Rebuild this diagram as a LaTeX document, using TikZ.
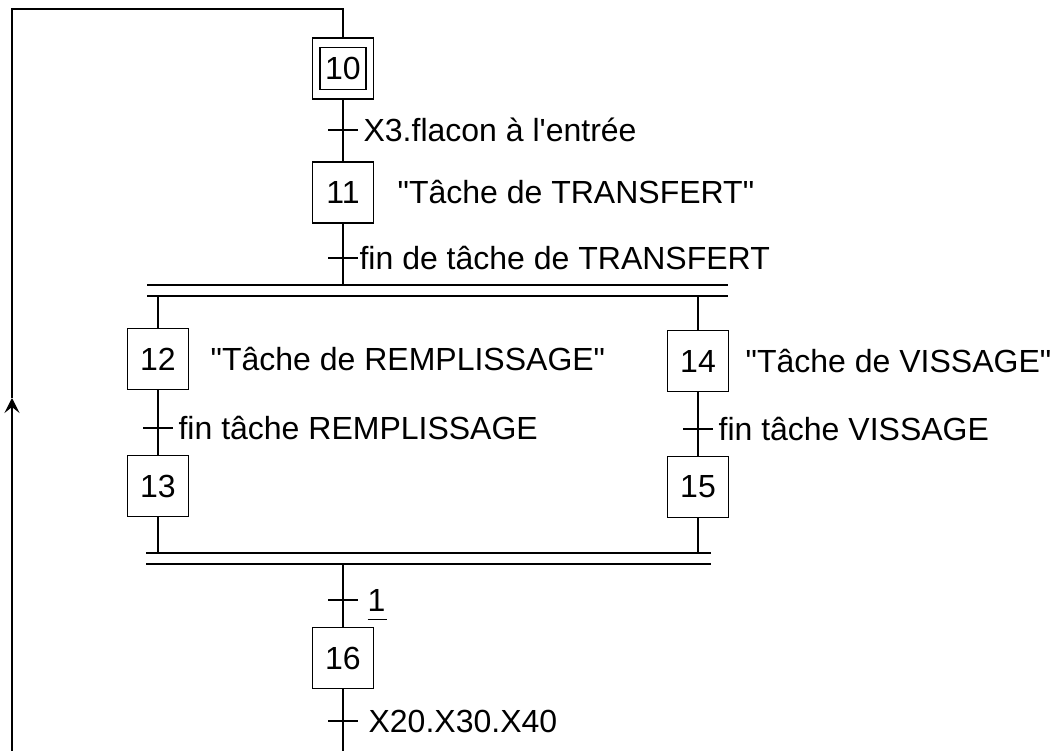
\documentclass[tikz,border=0pt]{standalone}
\usepackage{fontspec}
\setmainfont{Liberation Sans}
\usetikzlibrary{positioning, arrows.meta}
\newcommand{\grafont}{\fontsize{32}{38}\selectfont}
\newcommand{\toujours}{\underline{\rule[-6pt]{0pt}{1pt}1\hspace{2pt}}}

\begin{document}
\begin{tikzpicture}[
    x=1pt, y=-1pt,
    line width=1.2pt,
    % --- grafcet: steps, texts, bars ---
    etape/.style={draw, minimum size=61pt, inner sep=0pt, font=\grafont},
    initint/.style={draw, minimum width=46pt, minimum height=42pt,
                    inner sep=0pt, font=\grafont},
    txt/.style={font=\grafont, text height=23pt, text depth=0pt,
                inner sep=1pt, anchor=west},
    barre/.style={line width=1.4pt},
    recept/.style={line width=1.2pt},
    retour/.style={-{Stealth[length=15pt, width=15pt, inset=6pt]}},
]
\useasboundingbox (0,0) rectangle (1063,751);

% =========================================================
% STEPS
% =========================================================
\node[etape] (s10) at (343,68.5) {};
\node[initint] (s10in) at (s10.center) {10};
\node[etape] (s11) at (343,192.5) {11};
\node[etape] (s12) at (158,359) {12};
\node[etape] (s13) at (158,486) {13};
\node[etape] (s14) at (698,361) {14};
\node[etape] (s15) at (698,487) {15};
\node[etape] (s16) at (343,658) {16};

% actions
\node[txt, right=22pt of s11] (a11) {\textquotedbl Tâche de TRANSFERT\textquotedbl};
\node[txt, right=20pt of s12] (a12) {\textquotedbl Tâche de REMPLISSAGE\textquotedbl};
\node[txt, right=15pt of s14] (a14) {\textquotedbl Tâche de VISSAGE\textquotedbl};

% =========================================================
% AND divergence / convergence (double bars)
% =========================================================
\coordinate (ouvH) at (147,285);
\coordinate (ouvB) at (147,296);
\coordinate (ferH) at (146,553);
\coordinate (ferB) at (146,564);
\draw[barre] (ouvH) -- ++(581,0);
\draw[barre] (ouvB) -- ++(581,0);
\draw[barre] (ferH) -- ++(565,0);
\draw[barre] (ferB) -- ++(565,0);

% links
\draw (s10.south) -- (s11.north);
\draw (s11.south) -- (s11.south |- ouvH);
\draw (s12.north |- ouvB) -- (s12.north);
\draw (s14.north |- ouvB) -- (s14.north);
\draw (s12.south) -- (s13.north);
\draw (s14.south) -- (s15.north);
\draw (s13.south) -- (s13.south |- ferH);
\draw (s15.south) -- (s15.south |- ferH);
\draw (s16.north |- ferB) -- (s16.north);
\coordinate (bas) at (343,751);
\draw (s16.south) -- (bas);

% return to the initial step
\coordinate (retB) at (12,751);
\coordinate (retM) at (12,398);
\coordinate (retH) at (12,9);
\draw[retour] (retB) -- (retM);
\draw (retM) -- (retH) -- (retH -| s10.north) -- (s10.north);

% =========================================================
% TRANSITIONS
% =========================================================
\coordinate (t1) at (343,130);
\coordinate (t2) at (343,258);
\coordinate (t3) at (158,428);
\coordinate (t4) at (698,429);
\coordinate (t5) at (343,600);
\coordinate (t6) at (343,721);
\foreach \t/\dx/\lbl in {t1/4/{X3.flacon à l\textquotesingle entrée},
                          t2/0/{fin de tâche de TRANSFERT},
                          t3/4/{fin tâche REMPLISSAGE},
                          t4/4/{fin tâche VISSAGE},
                          t5/8/{\toujours},
                          t6/9/{X20.X30.X40}}
  \draw[recept] ([xshift=-15pt]\t) -- ([xshift=15pt]\t)
        node[txt, xshift=\dx pt] {\lbl};

\end{tikzpicture}
\end{document}
